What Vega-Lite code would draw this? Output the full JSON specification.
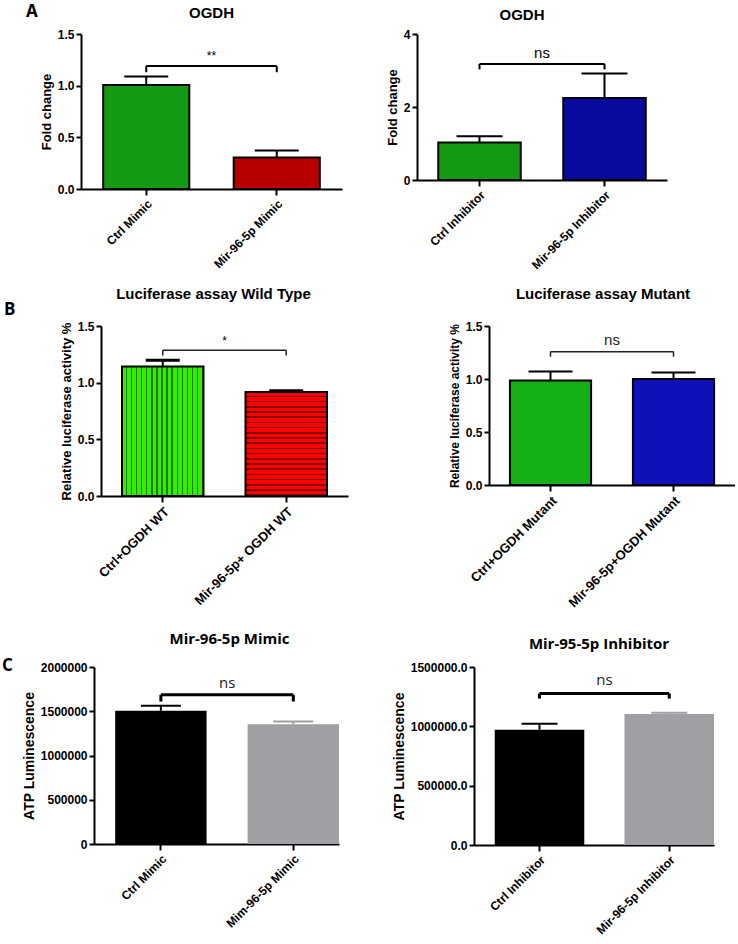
{
  "$schema": "https://vega.github.io/schema/vega-lite/v6.json",
  "padding": {"left": 2, "top": 3, "right": 0, "bottom": 0},
  "background": "white",
  "config": {
    "view": {"stroke": null},
    "font": "Liberation Sans",
    "title": {"fontSize": 15, "fontWeight": "bold", "color": "black", "frame": "group"},
    "axisY": {"domainWidth": 2, "domainColor": "black", "tickWidth": 2, "tickColor": "black", "tickSize": 5, "labelFontSize": 12, "labelFontWeight": "bold", "labelColor": "black", "labelPadding": 2, "titleFontSize": 13, "titleFontWeight": "bold", "titleColor": "black", "grid": false},
    "axisX": {"domainWidth": 2, "domainColor": "black", "tickWidth": 2, "tickColor": "black", "tickSize": 6, "labelFontSize": 12, "labelFontWeight": "bold", "labelColor": "black", "labelAngle": -45, "labelPadding": 3, "grid": false, "title": null}
  },
  "spacing": 16,
  "resolve": {"scale": {"fill": "independent", "color": "independent"}},
  "vconcat": [
    {
      "spacing": 0,
      "resolve": {"scale": {"fill": "independent", "color": "independent"}},
      "hconcat": [
        {
          "title": {"text": "A", "anchor": "start", "fontSize": 17, "font": "Open Sans", "offset": 13, "dx": 24},
          "width": 38, "height": 150,
          "data": {"values": []},
          "mark": "point"
        },
        {
          "spacing": 44,
          "resolve": {"scale": {"fill": "independent", "color": "independent"}},
          "hconcat": [
            {
              "title": {"text": "OGDH", "offset": 7},
              "width": 261, "height": 155,
              "data": {"values": [
                {"group": "Ctrl Mimic", "mean": 1.006, "upper": 1.088},
                {"group": "Mir-96-5p Mimic", "mean": 0.305, "upper": 0.373}
              ]},
              "encoding": {"x": {"field": "group", "type": "nominal", "sort": null, "scale": {"paddingInner": 0.34, "paddingOuter": 0.17}}},
              "layer": [
                {"mark": {"type": "bar", "stroke": "black", "strokeWidth": 2},
                 "encoding": {
                   "y": {"field": "mean", "type": "quantitative", "scale": {"domain": [0, 1.5], "nice": false}, "axis": {"title": "Fold change", "values": [0, 0.5, 1, 1.5], "format": ".1f"}},
                   "fill": {"field": "group", "type": "nominal", "sort": null, "scale": {"range": ["#129a12", "#b80000"]}, "legend": null}}},
                {"mark": {"type": "rule", "strokeWidth": 2, "color": "black"},
                 "encoding": {"y": {"field": "mean", "type": "quantitative"}, "y2": {"field": "upper"}}},
                {"mark": {"type": "tick", "thickness": 2, "size": 44, "color": "black", "opacity": 1},
                 "encoding": {"y": {"field": "upper", "type": "quantitative"}}},
                {"data": {"values": [{}]}, "mark": {"type": "rule", "strokeWidth": 2, "color": "black"},
                 "encoding": {"x": {"datum": "Ctrl Mimic"}, "x2": {"datum": "Mir-96-5p Mimic"}, "y": {"datum": 1.19}}},
                {"mark": {"type": "rule", "strokeWidth": 2, "color": "black"},
                 "encoding": {"y": {"datum": 1.19}, "y2": {"datum": 1.13}}},
                {"data": {"values": [{}]}, "mark": {"type": "text", "fontSize": 12, "baseline": "bottom", "color": "black"},
                 "encoding": {"x": {"datum": "Ctrl Mimic", "bandPosition": 1.258}, "y": {"datum": 1.22}, "text": {"value": "**"}}}
              ]
            },
            {
              "title": {"text": "OGDH", "offset": 5, "dx": -20},
              "width": 250, "height": 146,
              "data": {"values": [
                {"group": "Ctrl Inhibitor", "mean": 1.026, "upper": 1.197},
                {"group": "Mir-96-5p Inhibitor", "mean": 2.25, "upper": 2.92}
              ]},
              "encoding": {"x": {"field": "group", "type": "nominal", "sort": null, "scale": {"paddingInner": 0.34, "paddingOuter": 0.17}}},
              "layer": [
                {"mark": {"type": "bar", "stroke": "black", "strokeWidth": 2},
                 "encoding": {
                   "y": {"field": "mean", "type": "quantitative", "scale": {"domain": [0, 4], "nice": false}, "axis": {"title": "Fold change", "values": [0, 1, 2, 3, 4], "format": "d"}},
                   "fill": {"field": "group", "type": "nominal", "sort": null, "scale": {"range": ["#129a12", "#0a0aa0"]}, "legend": null}}},
                {"mark": {"type": "rule", "strokeWidth": 2, "color": "black"},
                 "encoding": {"y": {"field": "mean", "type": "quantitative"}, "y2": {"field": "upper"}}},
                {"mark": {"type": "tick", "thickness": 2, "size": 46, "color": "black", "opacity": 1},
                 "encoding": {"y": {"field": "upper", "type": "quantitative"}}},
                {"data": {"values": [{}]}, "mark": {"type": "rule", "strokeWidth": 2, "color": "black"},
                 "encoding": {"x": {"datum": "Ctrl Inhibitor"}, "x2": {"datum": "Mir-96-5p Inhibitor"}, "y": {"datum": 3.18}}},
                {"mark": {"type": "rule", "strokeWidth": 2, "color": "black"},
                 "encoding": {"y": {"datum": 3.18}, "y2": {"datum": 3.03}}},
                {"data": {"values": [{}]}, "mark": {"type": "text", "fontSize": 15, "baseline": "bottom", "color": "black"},
                 "encoding": {"x": {"datum": "Ctrl Inhibitor", "bandPosition": 1.258}, "y": {"datum": 3.25}, "text": {"value": "ns"}}}
              ]
            }
          ]
        }
      ]
    },
    {
      "spacing": 0,
      "resolve": {"scale": {"fill": "independent", "color": "independent"}},
      "hconcat": [
        {
          "title": {"text": "B", "anchor": "start", "fontSize": 17, "font": "Open Sans", "offset": 7, "dx": 2},
          "width": 58, "height": 290,
          "data": {"values": []},
          "mark": "point"
        },
        {
          "spacing": 100,
          "resolve": {"scale": {"fill": "independent", "color": "independent"}},
          "hconcat": [
            {
              "title": {"text": "Luciferase assay Wild Type", "offset": 18, "dx": -11},
              "width": 247, "height": 170,
              "data": {"values": [
                {"group": "Ctrl+OGDH WT", "mean": 1.142, "upper": 1.198},
                {"group": "Mir-96-5p+ OGDH WT", "mean": 0.917, "upper": 0.929}
              ]},
              "encoding": {"x": {"field": "group", "type": "nominal", "sort": null, "scale": {"paddingInner": 0.34, "paddingOuter": 0.17}, "axis": {"labelFontSize": 13}}},
              "layer": [
                {"transform": [{"filter": "datum.group === 'Ctrl+OGDH WT'"}],
                 "mark": {"type": "bar", "stroke": "black", "strokeWidth": 2,
                   "fill": {"gradient": "linear", "x1": 0, "x2": 1, "y1": 0, "y2": 0, "stops": [
                     {"offset": 0, "color": "#33ee00"}, {"offset": 0.044, "color": "#33ee00"}, {"offset": 0.044, "color": "#1c7a00"}, {"offset": 0.0625, "color": "#1c7a00"},
                     {"offset": 0.0625, "color": "#33ee00"}, {"offset": 0.1065, "color": "#33ee00"}, {"offset": 0.1065, "color": "#1c7a00"}, {"offset": 0.125, "color": "#1c7a00"},
                     {"offset": 0.125, "color": "#33ee00"}, {"offset": 0.169, "color": "#33ee00"}, {"offset": 0.169, "color": "#1c7a00"}, {"offset": 0.1875, "color": "#1c7a00"},
                     {"offset": 0.1875, "color": "#33ee00"}, {"offset": 0.2315, "color": "#33ee00"}, {"offset": 0.2315, "color": "#1c7a00"}, {"offset": 0.25, "color": "#1c7a00"},
                     {"offset": 0.25, "color": "#33ee00"}, {"offset": 0.294, "color": "#33ee00"}, {"offset": 0.294, "color": "#1c7a00"}, {"offset": 0.3125, "color": "#1c7a00"},
                     {"offset": 0.3125, "color": "#33ee00"}, {"offset": 0.3565, "color": "#33ee00"}, {"offset": 0.3565, "color": "#1c7a00"}, {"offset": 0.375, "color": "#1c7a00"},
                     {"offset": 0.375, "color": "#33ee00"}, {"offset": 0.419, "color": "#33ee00"}, {"offset": 0.419, "color": "#1c7a00"}, {"offset": 0.4375, "color": "#1c7a00"},
                     {"offset": 0.4375, "color": "#33ee00"}, {"offset": 0.4815, "color": "#33ee00"}, {"offset": 0.4815, "color": "#1c7a00"}, {"offset": 0.5, "color": "#1c7a00"},
                     {"offset": 0.5, "color": "#33ee00"}, {"offset": 0.544, "color": "#33ee00"}, {"offset": 0.544, "color": "#1c7a00"}, {"offset": 0.5625, "color": "#1c7a00"},
                     {"offset": 0.5625, "color": "#33ee00"}, {"offset": 0.6065, "color": "#33ee00"}, {"offset": 0.6065, "color": "#1c7a00"}, {"offset": 0.625, "color": "#1c7a00"},
                     {"offset": 0.625, "color": "#33ee00"}, {"offset": 0.669, "color": "#33ee00"}, {"offset": 0.669, "color": "#1c7a00"}, {"offset": 0.6875, "color": "#1c7a00"},
                     {"offset": 0.6875, "color": "#33ee00"}, {"offset": 0.7315, "color": "#33ee00"}, {"offset": 0.7315, "color": "#1c7a00"}, {"offset": 0.75, "color": "#1c7a00"},
                     {"offset": 0.75, "color": "#33ee00"}, {"offset": 0.794, "color": "#33ee00"}, {"offset": 0.794, "color": "#1c7a00"}, {"offset": 0.8125, "color": "#1c7a00"},
                     {"offset": 0.8125, "color": "#33ee00"}, {"offset": 0.8565, "color": "#33ee00"}, {"offset": 0.8565, "color": "#1c7a00"}, {"offset": 0.875, "color": "#1c7a00"},
                     {"offset": 0.875, "color": "#33ee00"}, {"offset": 0.919, "color": "#33ee00"}, {"offset": 0.919, "color": "#1c7a00"}, {"offset": 0.9375, "color": "#1c7a00"},
                     {"offset": 0.9375, "color": "#33ee00"}, {"offset": 0.9815, "color": "#33ee00"}, {"offset": 0.9815, "color": "#1c7a00"}, {"offset": 1, "color": "#1c7a00"}
                   ]}},
                 "encoding": {
                   "y": {"field": "mean", "type": "quantitative", "scale": {"domain": [0, 1.5], "nice": false}, "axis": {"title": "Relative luciferase activity %", "values": [0, 0.5, 1, 1.5], "format": ".1f"}}}},
                {"transform": [{"filter": "datum.group === 'Mir-96-5p+ OGDH WT'"}],
                 "mark": {"type": "bar", "stroke": "black", "strokeWidth": 2,
                   "fill": {"gradient": "linear", "x1": 0, "x2": 0, "y1": 0, "y2": 1, "stops": [
                     {"offset": 0, "color": "#ff0000"}, {"offset": 0.035, "color": "#ff0000"}, {"offset": 0.035, "color": "#8a0000"}, {"offset": 0.05, "color": "#8a0000"},
                     {"offset": 0.05, "color": "#ff0000"}, {"offset": 0.085, "color": "#ff0000"}, {"offset": 0.085, "color": "#8a0000"}, {"offset": 0.1, "color": "#8a0000"},
                     {"offset": 0.1, "color": "#ff0000"}, {"offset": 0.135, "color": "#ff0000"}, {"offset": 0.135, "color": "#8a0000"}, {"offset": 0.15, "color": "#8a0000"},
                     {"offset": 0.15, "color": "#ff0000"}, {"offset": 0.185, "color": "#ff0000"}, {"offset": 0.185, "color": "#8a0000"}, {"offset": 0.2, "color": "#8a0000"},
                     {"offset": 0.2, "color": "#ff0000"}, {"offset": 0.235, "color": "#ff0000"}, {"offset": 0.235, "color": "#8a0000"}, {"offset": 0.25, "color": "#8a0000"},
                     {"offset": 0.25, "color": "#ff0000"}, {"offset": 0.285, "color": "#ff0000"}, {"offset": 0.285, "color": "#8a0000"}, {"offset": 0.3, "color": "#8a0000"},
                     {"offset": 0.3, "color": "#ff0000"}, {"offset": 0.335, "color": "#ff0000"}, {"offset": 0.335, "color": "#8a0000"}, {"offset": 0.35, "color": "#8a0000"},
                     {"offset": 0.35, "color": "#ff0000"}, {"offset": 0.385, "color": "#ff0000"}, {"offset": 0.385, "color": "#8a0000"}, {"offset": 0.4, "color": "#8a0000"},
                     {"offset": 0.4, "color": "#ff0000"}, {"offset": 0.435, "color": "#ff0000"}, {"offset": 0.435, "color": "#8a0000"}, {"offset": 0.45, "color": "#8a0000"},
                     {"offset": 0.45, "color": "#ff0000"}, {"offset": 0.485, "color": "#ff0000"}, {"offset": 0.485, "color": "#8a0000"}, {"offset": 0.5, "color": "#8a0000"},
                     {"offset": 0.5, "color": "#ff0000"}, {"offset": 0.535, "color": "#ff0000"}, {"offset": 0.535, "color": "#8a0000"}, {"offset": 0.55, "color": "#8a0000"},
                     {"offset": 0.55, "color": "#ff0000"}, {"offset": 0.585, "color": "#ff0000"}, {"offset": 0.585, "color": "#8a0000"}, {"offset": 0.6, "color": "#8a0000"},
                     {"offset": 0.6, "color": "#ff0000"}, {"offset": 0.635, "color": "#ff0000"}, {"offset": 0.635, "color": "#8a0000"}, {"offset": 0.65, "color": "#8a0000"},
                     {"offset": 0.65, "color": "#ff0000"}, {"offset": 0.685, "color": "#ff0000"}, {"offset": 0.685, "color": "#8a0000"}, {"offset": 0.7, "color": "#8a0000"},
                     {"offset": 0.7, "color": "#ff0000"}, {"offset": 0.735, "color": "#ff0000"}, {"offset": 0.735, "color": "#8a0000"}, {"offset": 0.75, "color": "#8a0000"},
                     {"offset": 0.75, "color": "#ff0000"}, {"offset": 0.785, "color": "#ff0000"}, {"offset": 0.785, "color": "#8a0000"}, {"offset": 0.8, "color": "#8a0000"},
                     {"offset": 0.8, "color": "#ff0000"}, {"offset": 0.835, "color": "#ff0000"}, {"offset": 0.835, "color": "#8a0000"}, {"offset": 0.85, "color": "#8a0000"},
                     {"offset": 0.85, "color": "#ff0000"}, {"offset": 0.885, "color": "#ff0000"}, {"offset": 0.885, "color": "#8a0000"}, {"offset": 0.9, "color": "#8a0000"},
                     {"offset": 0.9, "color": "#ff0000"}, {"offset": 0.935, "color": "#ff0000"}, {"offset": 0.935, "color": "#8a0000"}, {"offset": 0.95, "color": "#8a0000"},
                     {"offset": 0.95, "color": "#ff0000"}, {"offset": 0.985, "color": "#ff0000"}, {"offset": 0.985, "color": "#8a0000"}, {"offset": 1, "color": "#8a0000"}
                   ]}},
                 "encoding": {"y": {"field": "mean", "type": "quantitative"}}},
                {"mark": {"type": "rule", "strokeWidth": 2, "color": "black"},
                 "encoding": {"y": {"field": "mean", "type": "quantitative"}, "y2": {"field": "upper"}}},
                {"mark": {"type": "tick", "thickness": 3, "size": 34, "color": "black", "opacity": 1},
                 "encoding": {"y": {"field": "upper", "type": "quantitative"}}},
                {"data": {"values": [{}]}, "mark": {"type": "rule", "strokeWidth": 1.5, "color": "#222"},
                 "encoding": {"x": {"datum": "Ctrl+OGDH WT"}, "x2": {"datum": "Mir-96-5p+ OGDH WT"}, "y": {"datum": 1.287}}},
                {"mark": {"type": "rule", "strokeWidth": 1.5, "color": "#222"},
                 "encoding": {"y": {"datum": 1.287}, "y2": {"datum": 1.24}}},
                {"data": {"values": [{}]}, "mark": {"type": "text", "fontSize": 12, "baseline": "bottom", "color": "black"},
                 "encoding": {"x": {"datum": "Ctrl+OGDH WT", "bandPosition": 1.258}, "y": {"datum": 1.31}, "text": {"value": "*"}}}
              ]
            },
            {
              "title": {"text": "Luciferase assay Mutant", "offset": 18, "dx": -9},
              "width": 246, "height": 159,
              "data": {"values": [
                {"group": "Ctrl+OGDH Mutant", "mean": 0.985, "upper": 1.071},
                {"group": "Mir-96-5p+OGDH Mutant", "mean": 1.0, "upper": 1.062}
              ]},
              "encoding": {"x": {"field": "group", "type": "nominal", "sort": null, "scale": {"paddingInner": 0.34, "paddingOuter": 0.17}, "axis": {"labelFontSize": 13}}},
              "layer": [
                {"mark": {"type": "bar", "stroke": "black", "strokeWidth": 2},
                 "encoding": {
                   "y": {"field": "mean", "type": "quantitative", "scale": {"domain": [0, 1.5], "nice": false}, "axis": {"title": "Relative luciferase activity %", "titleFontSize": 12, "values": [0, 0.5, 1, 1.5], "format": ".1f"}},
                   "fill": {"field": "group", "type": "nominal", "sort": null, "scale": {"range": ["#15b015", "#1010b8"]}, "legend": null}}},
                {"mark": {"type": "rule", "strokeWidth": 2, "color": "black"},
                 "encoding": {"y": {"field": "mean", "type": "quantitative"}, "y2": {"field": "upper"}}},
                {"mark": {"type": "tick", "thickness": 2, "size": 44, "color": "black", "opacity": 1},
                 "encoding": {"y": {"field": "upper", "type": "quantitative"}}},
                {"data": {"values": [{}]}, "mark": {"type": "rule", "strokeWidth": 1.5, "color": "#222"},
                 "encoding": {"x": {"datum": "Ctrl+OGDH Mutant"}, "x2": {"datum": "Mir-96-5p+OGDH Mutant"}, "y": {"datum": 1.258}}},
                {"mark": {"type": "rule", "strokeWidth": 1.5, "color": "#222"},
                 "encoding": {"y": {"datum": 1.258}, "y2": {"datum": 1.21}}},
                {"data": {"values": [{}]}, "mark": {"type": "text", "fontSize": 15, "baseline": "bottom", "color": "#222"},
                 "encoding": {"x": {"datum": "Ctrl+OGDH Mutant", "bandPosition": 1.258}, "y": {"datum": 1.29}, "text": {"value": "ns"}}}
              ]
            }
          ]
        }
      ]
    },
    {
      "spacing": 0,
      "resolve": {"scale": {"fill": "independent", "color": "independent"}},
      "hconcat": [
        {
          "title": {"text": "C", "anchor": "start", "fontSize": 17, "font": "Open Sans", "offset": -8, "dx": 0},
          "width": 20, "height": 150,
          "data": {"values": []},
          "mark": "point"
        },
        {
          "spacing": 53,
          "resolve": {"scale": {"fill": "independent", "color": "independent"}},
          "hconcat": [
            {
              "title": {"text": "Mir-96-5p Mimic", "offset": 14, "dx": 13, "font": "Open Sans"},
              "width": 245, "height": 177,
              "data": {"values": [
                {"group": "Ctrl Mimic", "mean": 1505000, "upper": 1561000},
                {"group": "Mim-96-5p Mimic", "mean": 1352000, "upper": 1385000}
              ]},
              "encoding": {"x": {"field": "group", "type": "nominal", "sort": null, "scale": {"paddingInner": 0.31, "paddingOuter": 0.08, "align": 1}}},
              "layer": [
                {"mark": {"type": "bar", "strokeWidth": 2},
                 "encoding": {
                   "y": {"field": "mean", "type": "quantitative", "scale": {"domain": [0, 2000000], "nice": false}, "axis": {"title": "ATP Luminescence", "titleFontSize": 14, "values": [0, 500000, 1000000, 1500000, 2000000], "format": "d"}},
                   "color": {"field": "group", "type": "nominal", "sort": null, "scale": {"range": ["#000000", "#a0a0a4"]}, "legend": null}}},
                {"mark": {"type": "rule", "strokeWidth": 2},
                 "encoding": {"y": {"field": "mean", "type": "quantitative"}, "y2": {"field": "upper"}, "color": {"field": "group", "type": "nominal", "sort": null, "legend": null}}},
                {"mark": {"type": "tick", "thickness": 2, "size": 40, "opacity": 1},
                 "encoding": {"y": {"field": "upper", "type": "quantitative"}, "color": {"field": "group", "type": "nominal", "sort": null, "legend": null}}},
                {"data": {"values": [{}]}, "mark": {"type": "rule", "strokeWidth": 3, "color": "black"},
                 "encoding": {"x": {"datum": "Ctrl Mimic"}, "x2": {"datum": "Mim-96-5p Mimic"}, "y": {"datum": 1687000}}},
                {"mark": {"type": "rule", "strokeWidth": 3, "color": "black"},
                 "encoding": {"y": {"datum": 1687000}, "y2": {"datum": 1610000}}},
                {"data": {"values": [{}]}, "mark": {"type": "text", "fontSize": 15, "baseline": "bottom", "color": "#222", "font": "Open Sans"},
                 "encoding": {"x": {"datum": "Ctrl Mimic", "bandPosition": 1.225}, "y": {"datum": 1730000}, "text": {"value": "ns"}}}
              ]
            },
            {
              "title": {"text": "Mir-95-5p Inhibitor", "offset": 14, "dx": 5, "dy": 5, "font": "Open Sans"},
              "width": 240, "height": 178,
              "data": {"values": [
                {"group": "Ctrl Inhibitor", "mean": 971000, "upper": 1022600},
                {"group": "Mir-96-5p Inhibitor", "mean": 1103000, "upper": 1114000}
              ]},
              "encoding": {"x": {"field": "group", "type": "nominal", "sort": null, "scale": {"paddingInner": 0.31, "paddingOuter": 0.08, "align": 1}}},
              "layer": [
                {"mark": {"type": "bar", "strokeWidth": 2},
                 "encoding": {
                   "y": {"field": "mean", "type": "quantitative", "scale": {"domain": [0, 1500000], "nice": false}, "axis": {"title": "ATP Luminescence", "titleFontSize": 14, "values": [0, 500000, 1000000, 1500000], "format": ".1f"}},
                   "color": {"field": "group", "type": "nominal", "sort": null, "scale": {"range": ["#000000", "#a0a0a4"]}, "legend": null}}},
                {"mark": {"type": "rule", "strokeWidth": 2},
                 "encoding": {"y": {"field": "mean", "type": "quantitative"}, "y2": {"field": "upper"}, "color": {"field": "group", "type": "nominal", "sort": null, "legend": null}}},
                {"mark": {"type": "tick", "thickness": 2, "size": 36, "opacity": 1},
                 "encoding": {"y": {"field": "upper", "type": "quantitative"}, "color": {"field": "group", "type": "nominal", "sort": null, "legend": null}}},
                {"data": {"values": [{}]}, "mark": {"type": "rule", "strokeWidth": 3, "color": "black"},
                 "encoding": {"x": {"datum": "Ctrl Inhibitor"}, "x2": {"datum": "Mir-96-5p Inhibitor"}, "y": {"datum": 1277000}}},
                {"mark": {"type": "rule", "strokeWidth": 3, "color": "black"},
                 "encoding": {"y": {"datum": 1277000}, "y2": {"datum": 1234000}}},
                {"data": {"values": [{}]}, "mark": {"type": "text", "fontSize": 15, "baseline": "bottom", "color": "#222", "font": "Open Sans"},
                 "encoding": {"x": {"datum": "Ctrl Inhibitor", "bandPosition": 1.225}, "y": {"datum": 1320000}, "text": {"value": "ns"}}}
              ]
            }
          ]
        }
      ]
    }
  ]
}
